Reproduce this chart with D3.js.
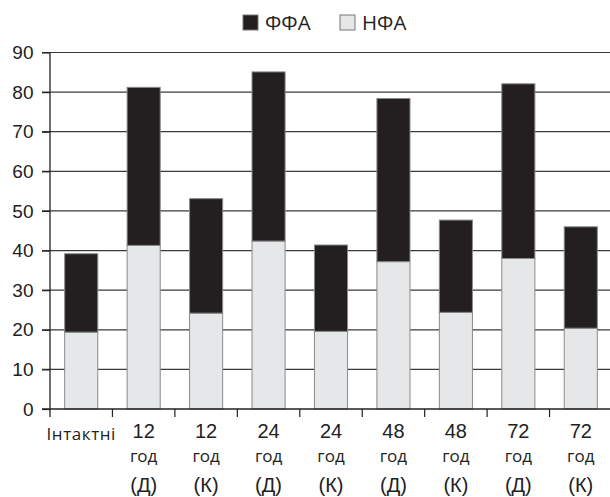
<!DOCTYPE html>
<html><head><meta charset="utf-8">
<script src="https://cdn.jsdelivr.net/npm/d3@7"></script>
<style>body{margin:0;background:#fff}svg{display:block}</style>
</head><body>
<svg id="c" width="610" height="497"></svg>
<script>
const categories = [["Інтактні"],["12","год","(Д)"],["12","год","(К)"],["24","год","(Д)"],["24","год","(К)"],["48","год","(Д)"],["48","год","(К)"],["72","год","(Д)"],["72","год","(К)"]];
const nfa = [19.4, 41.3, 24.2, 42.4, 19.6, 37.2, 24.4, 38.0, 20.4];
const ffa = [19.8, 39.9, 28.9, 42.7, 21.8, 41.2, 23.3, 44.1, 25.6];
const yTicks = [0,10,20,30,40,50,60,70,80,90];
const seriesNames = ["ФФА","НФА"];
const colors = {"ФФА":"#231f20","НФА":"#e6e7e8"};

(function(){
const svg = d3.select("#c");
const pL = 50, pR = 612, pT = 52.5, pB = 409;
const keys = categories.map((d,i)=>i);
const x = d3.scaleBand().domain(keys).range([pL,pR]).paddingInner(0.47).paddingOuter(0.235);
const y = d3.scaleLinear().domain([0,90]).range([pB,pT]);
const tickFont = "'Liberation Sans',Arial,sans-serif";
const labFont = "'Open Sans','DejaVu Sans',sans-serif";
const lineY = [437.5, 461.5, 492];

// gridlines
svg.append("g").selectAll("line").data(yTicks.filter(t=>t>0)).join("line")
  .attr("x1",42).attr("x2",610).attr("y1",d=>y(d)).attr("y2",d=>y(d))
  .attr("stroke","#3a3a3a").attr("stroke-width",1.2);

// y axis
const ya = svg.append("g").attr("transform",`translate(${pL},0)`)
  .call(d3.axisLeft(y).tickValues(yTicks).tickSize(8).tickPadding(8.5));
ya.select(".domain").remove();
ya.selectAll(".tick line").attr("stroke","#222").attr("stroke-width",1.2);
ya.selectAll("text").attr("font-family",tickFont).attr("font-size",19).attr("fill","#222");
svg.append("line").attr("x1",pL).attr("x2",pL).attr("y1",pT).attr("y2",417).attr("stroke","#222").attr("stroke-width",1.3);

// stacked bars
const stackData = keys.map(i=>({i, "НФА":nfa[i], "ФФА":ffa[i]}));
const stack = d3.stack().keys(["НФА","ФФА"])(stackData);
svg.append("g").selectAll("g").data(stack).join("g")
  .attr("fill",d=>colors[d.key])
  .selectAll("rect").data(d=>d).join("rect")
  .attr("x",d=>x(d.data.i)).attr("width",x.bandwidth())
  .attr("y",d=>y(d[1])).attr("height",d=>y(d[0])-y(d[1]))
  .attr("stroke","#8a8a8a").attr("stroke-width",1);

// x axis baseline
svg.append("line").attr("x1",42).attr("x2",610).attr("y1",pB).attr("y2",pB).attr("stroke","#222").attr("stroke-width",1.3);
// x ticks at band boundaries
const bounds = keys.map(i=>x(i) - x.step()*x.paddingOuter());
svg.append("g").selectAll("line").data(bounds.slice(1)).join("line")
  .attr("x1",d=>d).attr("x2",d=>d).attr("y1",pB).attr("y2",417)
  .attr("stroke","#222").attr("stroke-width",1.2);

// x labels
const xl = svg.append("g").selectAll("text").data(categories).join("text")
  .attr("fill","#222").attr("text-anchor","middle");
xl.each(function(lines,i){
  const t = d3.select(this);
  lines.forEach((s,j)=>{
    const hum = (i===0 || j===1);
    t.append("tspan").attr("x",x(i)+x.bandwidth()/2).attr("y",lineY[j] + (i===0 ? 2 : 0))
     .attr("font-family", hum ? labFont : tickFont)
     .attr("font-size", i===0 ? 17 : (hum ? 17 : 20))
     .attr("letter-spacing", i===0 ? 0.6 : 0)
     .text(s);
  });
});

// legend
const lg = svg.append("g");
const items = [{n:"ФФА",x:243},{n:"НФА",x:340}];
items.forEach(it=>{
  lg.append("rect").attr("x",it.x).attr("y",15).attr("width",15).attr("height",15)
    .attr("fill",colors[it.n]).attr("stroke","#777").attr("stroke-width",1);
  lg.append("text").attr("x",it.x+22).attr("y",30).attr("font-family",labFont)
    .attr("font-size",20.5).attr("fill","#222").text(it.n);
});
})();
</script>
</body></html>
